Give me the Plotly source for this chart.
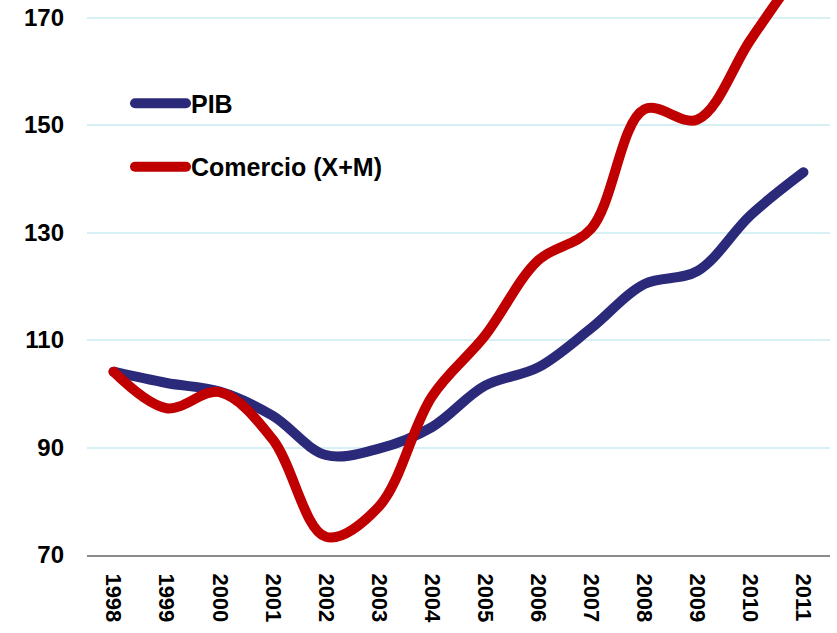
import plotly.graph_objects as go

years = ["1998", "1999", "2000", "2001", "2002", "2003", "2004",
         "2005", "2006", "2007", "2008", "2009", "2010", "2011"]
pib = [104.1, 102.0, 100.4, 95.9, 88.6, 89.8, 93.8,
       101.5, 104.9, 112.2, 120.4, 122.8, 133.2, 141.2]
comercio = [104.1, 97.3, 100.3, 91.5, 73.4, 79.0, 99.5,
            110.8, 124.8, 130.7, 152.9, 151.0, 165.8, 180.0]
y_ticks = [70, 90, 110, 130, 150, 170]

FONT = "Liberation Sans, Arial, sans-serif"

fig = go.Figure()
fig.add_trace(go.Scatter(
    x=years, y=pib, name="PIB", mode="lines", legendgroup="a",
    line=dict(color="#2B2A7A", width=10, shape="spline", smoothing=1.0),
))
fig.add_trace(go.Scatter(
    x=years, y=comercio, name="Comercio (X+M)", mode="lines", legendgroup="b",
    line=dict(color="#C00000", width=10, shape="spline", smoothing=1.0),
))

# white legend box background (hides the gridline behind the legend area)
fig.add_shape(
    type="rect", xref="paper", yref="paper",
    x0=0.0, x1=0.491, y0=0.64, y1=0.93,
    fillcolor="white", line=dict(width=0), layer="between",
)

fig.update_layout(
    width=837, height=633,
    margin=dict(l=87, r=7, t=0, b=78),
    paper_bgcolor="white", plot_bgcolor="white",
    showlegend=True,
    legend=dict(
        x=0.0, y=0.855, xanchor="left", yanchor="top",
        bgcolor="rgba(255,255,255,0)", borderwidth=0,
        font=dict(family=FONT, size=25, color="black", weight="bold"),
        itemwidth=51, indentation=43, tracegroupgap=28,
    ),
    xaxis=dict(
        type="category", range=[-0.5, 13.5],
        showgrid=False, showline=True, linecolor="#8C8C8C", linewidth=2,
        ticks="", tickangle=90, ticklabelstandoff=12,
        tickfont=dict(family=FONT, size=22, color="black", weight="bold"),
        zeroline=False,
    ),
    yaxis=dict(
        range=[70, 70 + 555 / 5.375],
        tickvals=y_ticks, showgrid=True, gridcolor="#D6F0F3", gridwidth=1.5,
        showline=False, zeroline=False, ticks="",
        ticklabelstandoff=22,
        tickfont=dict(family=FONT, size=24, color="black", weight="bold"),
    ),
)

post = (
    "document.body.style.margin='0px';"
    "document.body.style.overflow='hidden';"
    "var st=document.createElement('style');"
    "st.textContent='.scatterlayer .js-line, .legendlines path{stroke-linecap:round !important;}';"
    "document.head.appendChild(st);"
)

fig.write_html(
    "out.html",
    config={"displayModeBar": False},
    post_script=post,
)
